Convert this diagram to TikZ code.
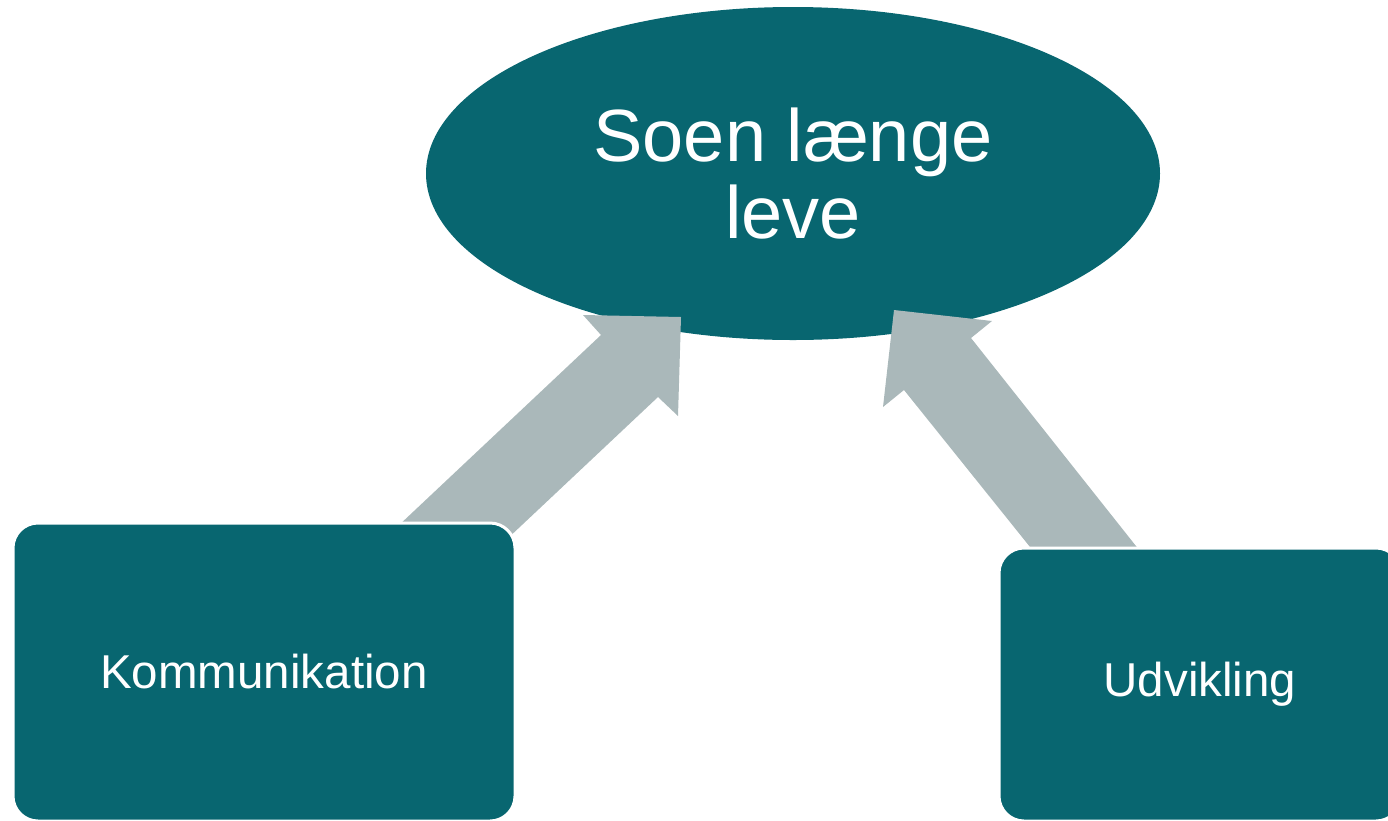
\documentclass[tikz,border=0pt]{standalone}
\usepackage{fontspec}
\setmainfont{Liberation Sans}
\usetikzlibrary{shapes.geometric}
\definecolor{tealfill}{RGB}{8,102,112}
\definecolor{arrowgray}{RGB}{170,184,186}
\begin{document}
\begin{tikzpicture}[x=1pt,y=-1pt,
  goalshape/.style={ellipse, fill=tealfill, inner sep=0pt, outer sep=0pt, text=white, align=center,
    font=\fontsize{74}{77}\selectfont},
  boxshape/.style={rectangle, rounded corners=25pt, fill=tealfill, draw=white, line width=3pt,
    inner sep=0pt, text=white, font=\fontsize{47.5}{52}\selectfont},
  blockarrow/.style={fill=arrowgray, draw=none}]
\useasboundingbox (0,0) rectangle (1388,820);
\node[goalshape, minimum width=734pt, minimum height=333pt] (goal) at (793,173.5) {Soen længe\\leve};
% left block arrow
\coordinate (la1) at (380,543);
\coordinate (la2) at (601,335);
\coordinate (la3) at (583,315);
\coordinate (la4) at (681,317);
\coordinate (la5) at (678,416);
\coordinate (la6) at (658,397);
\coordinate (la7) at (438,604);
\fill[blockarrow] (la1) -- (la2) -- (la3) -- (la4) -- (la5) -- (la6) -- (la7) -- cycle;
% right block arrow
\coordinate (ra1) at (1155,570);
\coordinate (ra2) at (971,338);
\coordinate (ra3) at (992,321);
\coordinate (ra4) at (894,310);
\coordinate (ra5) at (883,407);
\coordinate (ra6) at (904,390);
\coordinate (ra7) at (1048.5,570);
\fill[blockarrow] (ra1) -- (ra2) -- (ra3) -- (ra4) -- (ra5) -- (ra6) -- (ra7) -- cycle;
\node[boxshape, minimum width=502pt, minimum height=298pt] (komm) at (264,672) {Kommunikation};
\node[boxshape, minimum width=402pt, minimum height=273pt] (udv) at (1200,684.5) {\raisebox{-3pt}{Udvikling}};
\end{tikzpicture}
\end{document}
